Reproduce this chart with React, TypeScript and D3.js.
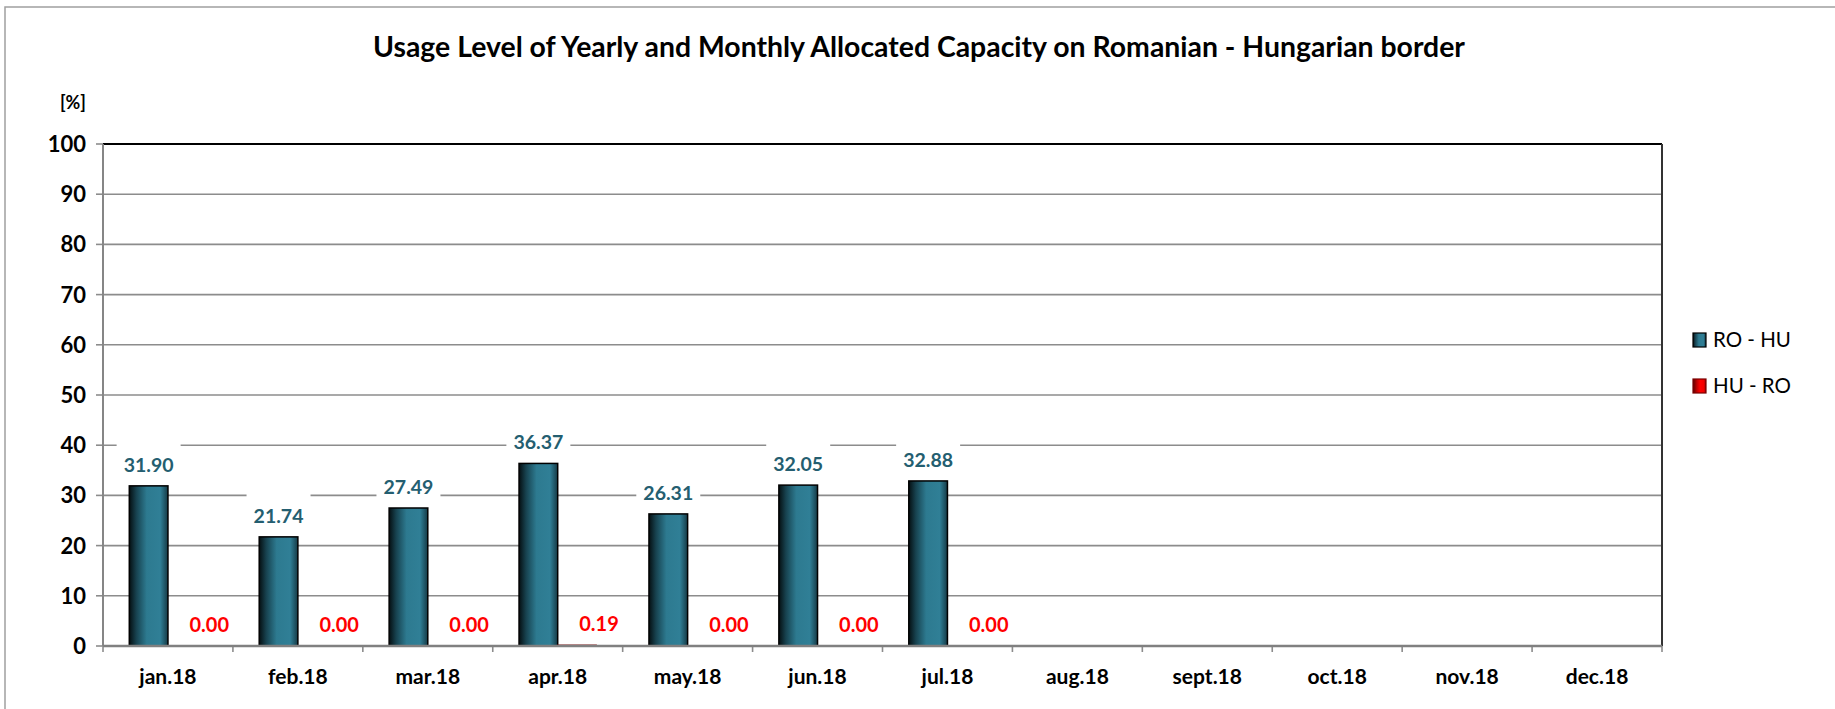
import React, { useEffect, useRef } from "react";
import * as d3 from "d3";

const months = ["jan.18", "feb.18", "mar.18", "apr.18", "may.18", "jun.18", "jul.18", "aug.18", "sept.18", "oct.18", "nov.18", "dec.18"];
const roHu = [31.9, 21.74, 27.49, 36.37, 26.31, 32.05, 32.88, null, null, null, null, null];
const huRo = [0, 0, 0, 0.19, 0, 0, 0, null, null, null, null, null];
const seriesNames = ["RO - HU", "HU - RO"];
const yTicks = [0, 10, 20, 30, 40, 50, 60, 70, 80, 90, 100];

const title = "Usage Level of Yearly and Monthly Allocated Capacity on Romanian - Hungarian border";

const App = () => {
  const svgRef = useRef<SVGSVGElement>(null);

  useEffect(() => {
    const width = 1835;
    const height = 709;
    const m = { left: 103, right: 1662, top: 144, bottom: 646 };
    const font = "Lato, 'Open Sans', sans-serif";

    const svg = d3.select(svgRef.current).attr("width", width).attr("height", height);
    svg.selectAll("*").remove();

    const defs = svg.append("defs");
    const grad = (id: string, stops: [number, string][]) => {
      const g = defs.append("linearGradient").attr("id", id).attr("x1", "0%").attr("x2", "100%").attr("y1", "0%").attr("y2", "0%");
      stops.forEach(([o, c]) => g.append("stop").attr("offset", `${o}%`).attr("stop-color", c));
    };
    grad("blueGrad", [[0, "#050f12"], [18, "#17424f"], [45, "#2d7a90"], [80, "#307f96"], [100, "#153a46"]]);
    grad("redGrad", [[0, "#5a0000"], [30, "#c00000"], [55, "#ff0000"], [85, "#f00000"], [100, "#800000"]]);

    // chart area frame
    svg.append("rect").attr("x", 5).attr("y", 7).attr("width", width + 20).attr("height", height + 20)
      .attr("fill", "#fff").attr("stroke", "#a0a0a0").attr("stroke-width", 1.5);

    const x0 = d3.scaleBand().domain(months).range([m.left, m.right]).paddingInner(0).paddingOuter(0);
    const x1 = d3.scaleBand().domain(seriesNames).range([0, x0.bandwidth()]).paddingInner(0).paddingOuter(0.68);
    const y = d3.scaleLinear().domain([0, 100]).range([m.bottom, m.top]);

    // gridlines
    svg.append("g").selectAll("line").data(yTicks.filter((t) => t > 0 && t < 100)).enter().append("line")
      .attr("x1", m.left).attr("x2", m.right).attr("y1", (d) => y(d)).attr("y2", (d) => y(d))
      .attr("stroke", "#8c8c8c").attr("stroke-width", 1.6);

    // y ticks
    svg.append("g").selectAll("line").data(yTicks).enter().append("line")
      .attr("x1", m.left - 7).attr("x2", m.left).attr("y1", (d) => y(d)).attr("y2", (d) => y(d))
      .attr("stroke", "#8c8c8c").attr("stroke-width", 1.6);
    svg.append("g").selectAll("text").data(yTicks).enter().append("text")
      .attr("x", 86).attr("y", (d) => y(d) + 8).attr("text-anchor", "end")
      .style("font-family", font).style("font-weight", "bold").style("font-size", "22px").attr("fill", "#000")
      .text((d) => d);

    // x ticks
    const bounds = months.map((d) => x0(d) as number).concat([m.right]);
    svg.append("g").selectAll("line").data(bounds).enter().append("line")
      .attr("x1", (d) => d).attr("x2", (d) => d).attr("y1", m.bottom).attr("y2", m.bottom + 6)
      .attr("stroke", "#8c8c8c").attr("stroke-width", 1.6);
    svg.append("g").selectAll("text").data(months).enter().append("text")
      .attr("x", (d) => (x0(d) as number) + x0.bandwidth() / 2).attr("y", 684).attr("text-anchor", "middle")
      .style("font-family", font).style("font-weight", "bold").style("font-size", "21px").attr("fill", "#000")
      .text((d) => d);

    // frame lines
    svg.append("line").attr("x1", m.left).attr("x2", m.right).attr("y1", m.top).attr("y2", m.top)
      .attr("stroke", "#000").attr("stroke-width", 2);
    svg.append("line").attr("x1", m.right).attr("x2", m.right).attr("y1", m.top).attr("y2", m.bottom)
      .attr("stroke", "#333").attr("stroke-width", 2);
    svg.append("line").attr("x1", m.left).attr("x2", m.left).attr("y1", m.top).attr("y2", m.bottom)
      .attr("stroke", "#868686").attr("stroke-width", 2);

    const rows = months.map((mo, i) => ({ month: mo, a: roHu[i], b: huRo[i] }));

    const bw = x1.bandwidth();
    const blue = rows.filter((r) => r.a !== null);
    const red = rows.filter((r) => r.b !== null);

    // bars
    svg.append("g").selectAll("rect").data(blue).enter().append("rect")
      .attr("x", (d) => (x0(d.month) as number) + (x1("RO - HU") as number))
      .attr("y", (d) => y(d.a as number)).attr("width", bw)
      .attr("height", (d) => m.bottom - y(d.a as number))
      .attr("fill", "url(#blueGrad)").attr("stroke", "#000").attr("stroke-width", 1.5);
    svg.append("g").selectAll("rect").data(red.filter((d) => (d.b as number) > 0)).enter().append("rect")
      .attr("x", (d) => (x0(d.month) as number) + (x1("HU - RO") as number))
      .attr("y", (d) => y(d.b as number)).attr("width", bw)
      .attr("height", (d) => m.bottom - y(d.b as number))
      .attr("fill", "url(#redGrad)").attr("stroke", "#7a0000").attr("stroke-width", 1);

    // bottom axis on top of bars
    svg.append("line").attr("x1", m.left).attr("x2", m.right).attr("y1", m.bottom).attr("y2", m.bottom)
      .attr("stroke", "#808080").attr("stroke-width", 2.5);

    // RO - HU labels with white boxes
    const blueLabels = svg.append("g");
    blue.forEach((d) => {
      const cx = (x0(d.month) as number) + (x1("RO - HU") as number) + bw / 2;
      const cy = y(d.a as number) - 21;
      const t = (d.a as number).toFixed(2);
      blueLabels.append("rect").attr("x", cx - 32).attr("y", cy - 22).attr("width", 64).attr("height", 36).attr("fill", "#fff");
      blueLabels.append("text").attr("x", cx).attr("y", cy + 7).attr("text-anchor", "middle")
        .style("font-family", font).style("font-weight", "bold").style("font-size", "19.5px").attr("fill", "#245e70")
        .text(t);
    });

    svg.append("g").selectAll("text").data(red).enter().append("text")
      .attr("x", (d) => (x0(d.month) as number) + (x1("HU - RO") as number) + bw / 2 + 22)
      .attr("y", (d) => y(d.b as number) - 14).attr("text-anchor", "middle")
      .style("font-family", font).style("font-weight", "bold").style("font-size", "20px").attr("fill", "#ff0000")
      .text((d) => (d.b as number).toFixed(2));

    // title and unit
    svg.append("text").attr("x", 919).attr("y", 57).attr("text-anchor", "middle")
      .style("font-family", font).style("font-weight", "bold").style("font-size", "28.4px").attr("fill", "#000")
      .text(title);
    svg.append("text").attr("x", 73).attr("y", 109).attr("text-anchor", "middle")
      .style("font-family", font).style("font-weight", "bold").style("font-size", "18px").attr("fill", "#000")
      .text("[%]");

    // legend
    const legend = svg.append("g");
    seriesNames.forEach((s, i) => {
      const ly = 340 + i * 46;
      legend.append("rect").attr("x", 1693).attr("y", ly - 7).attr("width", 13).attr("height", 14)
        .attr("fill", i === 0 ? "url(#blueGrad)" : "url(#redGrad)").attr("stroke", i === 0 ? "#000" : "#7a0000").attr("stroke-width", 1.2);
      legend.append("text").attr("x", 1713).attr("y", ly + 7)
        .style("font-family", font).style("font-size", "20.5px").attr("fill", "#000")
        .text(s);
    });
  }, []);

  return (
    <div style={{ position: "absolute", left: 0, top: 0 }}>
      <svg ref={svgRef} style={{ display: "block" }}></svg>
    </div>
  );
};

export default App;
